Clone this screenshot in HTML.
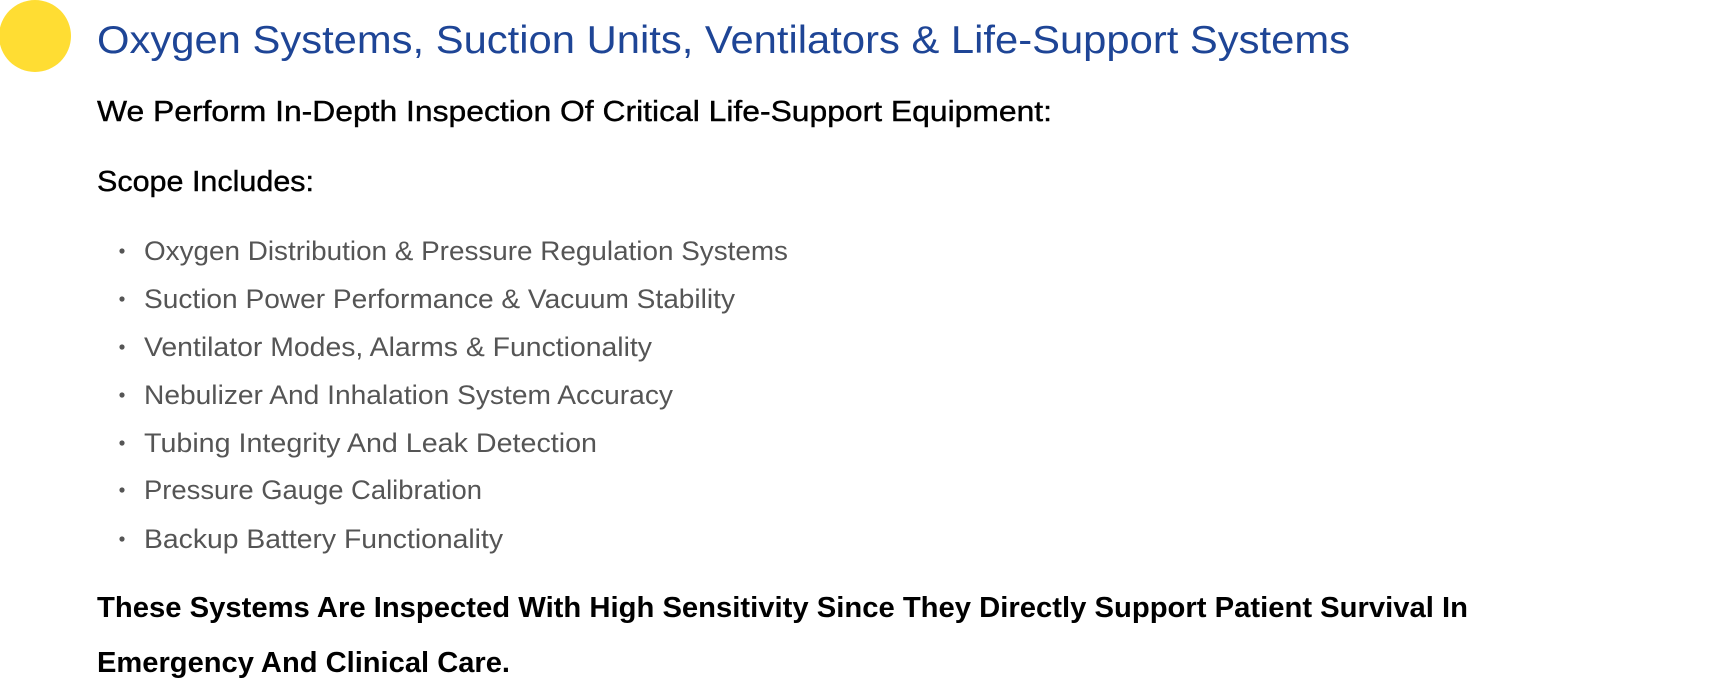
<!DOCTYPE html>
<html><head><meta charset="utf-8"><style>
html,body{margin:0;padding:0;background:#fff;width:1728px;height:697px;overflow:hidden}
svg{display:block}
text{font-family:"Liberation Sans",sans-serif}
</style></head><body>
<svg width="1728" height="697" viewBox="0 0 1728 697">
<ellipse cx="35" cy="36" rx="36" ry="36" fill="#FFDD33"/>
<text x="97" y="53" font-size="39" fill="#1e4596" textLength="1253" lengthAdjust="spacingAndGlyphs">Oxygen Systems, Suction Units, Ventilators &amp; Life-Support Systems</text>
<text x="97" y="121" font-size="29" fill="#000" stroke="#000" stroke-width="0.4" textLength="955" lengthAdjust="spacingAndGlyphs">We Perform In-Depth Inspection Of Critical Life-Support Equipment:</text>
<text x="97" y="191" font-size="29" fill="#000" stroke="#000" stroke-width="0.4" textLength="217" lengthAdjust="spacingAndGlyphs">Scope Includes:</text>
<g font-size="27" fill="#555">
<circle cx="122" cy="251" r="2.6"/><text x="144" y="260" textLength="644" lengthAdjust="spacingAndGlyphs">Oxygen Distribution &amp; Pressure Regulation Systems</text>
<circle cx="122" cy="299" r="2.6"/><text x="144" y="308" textLength="591" lengthAdjust="spacingAndGlyphs">Suction Power Performance &amp; Vacuum Stability</text>
<circle cx="122" cy="347" r="2.6"/><text x="144" y="356" textLength="508" lengthAdjust="spacingAndGlyphs">Ventilator Modes, Alarms &amp; Functionality</text>
<circle cx="122" cy="395" r="2.6"/><text x="144" y="404" textLength="529" lengthAdjust="spacingAndGlyphs">Nebulizer And Inhalation System Accuracy</text>
<circle cx="122" cy="443" r="2.6"/><text x="144" y="452" textLength="453" lengthAdjust="spacingAndGlyphs">Tubing Integrity And Leak Detection</text>
<circle cx="122" cy="490" r="2.6"/><text x="144" y="499" textLength="338" lengthAdjust="spacingAndGlyphs">Pressure Gauge Calibration</text>
<circle cx="122" cy="539" r="2.6"/><text x="144" y="548" textLength="359" lengthAdjust="spacingAndGlyphs">Backup Battery Functionality</text>
</g>
<g font-size="29" font-weight="bold" fill="#000">
<text x="97" y="617" textLength="1371" lengthAdjust="spacingAndGlyphs">These Systems Are Inspected With High Sensitivity Since They Directly Support Patient Survival In</text>
<text x="97" y="672" textLength="413" lengthAdjust="spacingAndGlyphs">Emergency And Clinical Care.</text>
</g>
</svg>
</body></html>
